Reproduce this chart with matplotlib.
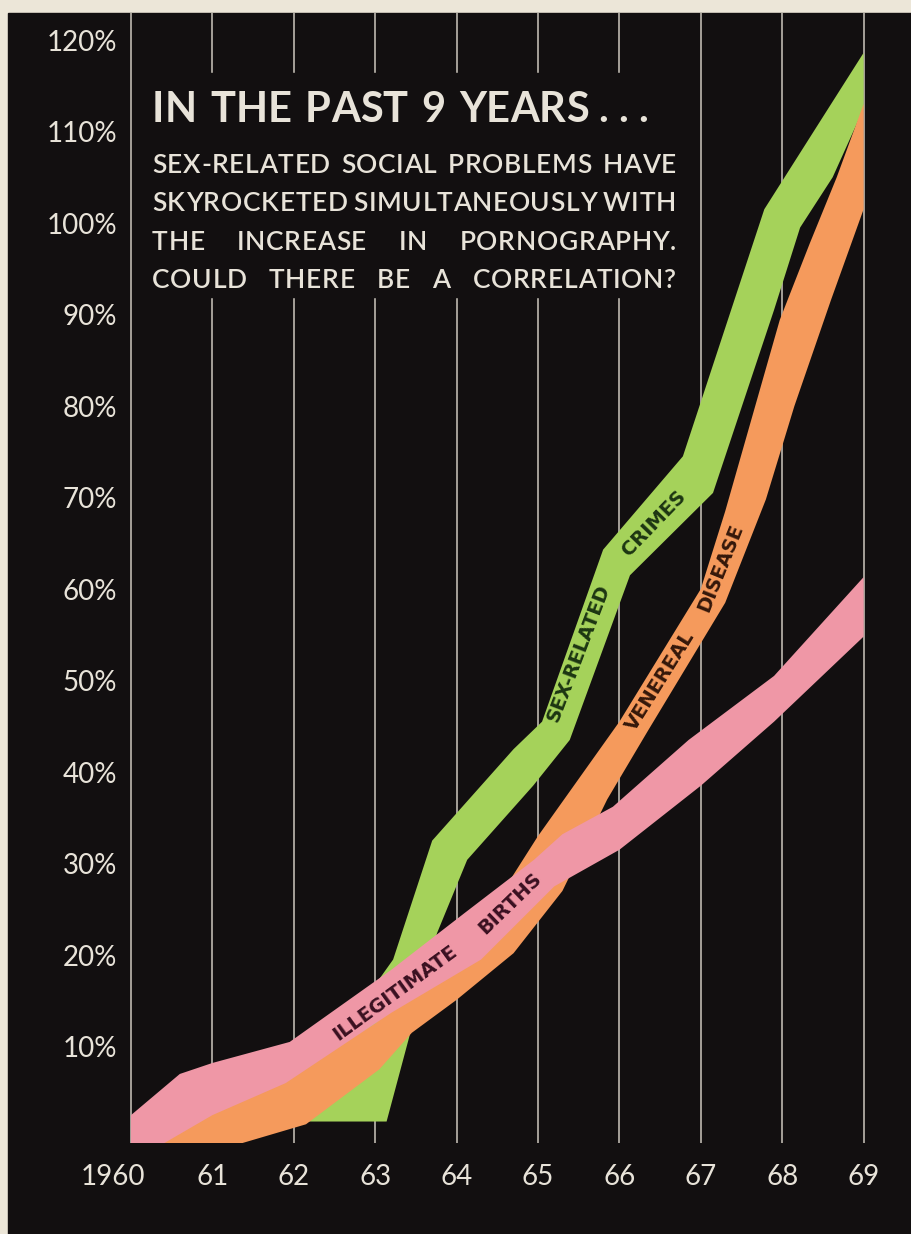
import matplotlib
matplotlib.use("Agg")
import matplotlib.pyplot as plt
from matplotlib.patches import Rectangle
from matplotlib.transforms import ScaledTranslation

W, H = 911, 1234
CREAM = "#ece6d8"
INK = "#120f10"
GRID = "#cdc8be"
LABEL = "#e8e3d9"
GREEN = "#a5d25a"
ORANGE = "#f59a5c"
PINK = "#ef97a6"

years = [1960, 1961, 1962, 1963, 1964, 1965, 1966, 1967, 1968, 1969]
year_labels = ["1960", "61", "62", "63", "64", "65", "66", "67", "68", "69"]
pct_ticks = [10, 20, 30, 40, 50, 60, 70, 80, 90, 100, 110, 120]
pct_labels = ["10%", "20%", "30%", "40%", "50%", "60%", "70%",
              "80%", "90%", "100%", "110%", "120%"]

# ribbon edges: (year, percent)
crimes_top_x = [1961.9, 1963.22, 1963.7, 1964.7, 1965.05, 1965.8, 1966.78, 1967.78, 1969.0]
crimes_top_y = [3.0, 19.5, 32.5, 42.5, 45.5, 64.3, 74.5, 101.5, 118.6]
crimes_bot_x = [1961.9, 1963.14, 1963.76, 1964.13, 1964.94, 1965.39, 1966.13,
                1967.15, 1967.9, 1968.22, 1968.62, 1969.0]
crimes_bot_y = [1.8, 1.8, 22.4, 30.4, 38.5, 43.5, 61.5, 70.5, 90.5, 99.5, 105.0, 112.5]

vd_top_x = [1960.0, 1961.0, 1962.0, 1963.0, 1964.0, 1964.5, 1965.0, 1966.0,
            1967.0, 1967.3, 1967.97, 1968.34, 1968.67, 1969.0]
vd_top_y = [0.0, 3.5, 7.0, 12.5, 20.0, 26.0, 33.0, 45.5, 60.0, 68.5, 89.4, 97.8,
            105.0, 113.0]
vd_bot_x = [1960.0, 1961.35, 1962.15, 1963.05, 1963.45, 1964.0, 1964.7, 1965.3,
            1965.85, 1966.35, 1967.3, 1967.8, 1968.15, 1968.6, 1969.0]
vd_bot_y = [-0.6, -0.6, 1.5, 7.5, 11.5, 15.1, 20.2, 27.0, 37.0, 44.5, 58.5, 69.8,
            80.0, 91.6, 101.5]

births_top_x = [1960.0, 1960.6, 1961.0, 1961.95, 1963.2, 1964.1, 1964.95, 1965.3,
                1965.92, 1966.85, 1967.9, 1969.0]
births_top_y = [2.5, 7.0, 8.2, 10.5, 18.4, 24.6, 30.4, 33.2, 36.2, 43.5, 50.5, 61.3]
births_bot_x = [1960.0, 1960.4, 1961.0, 1961.9, 1963.2, 1964.3, 1965.2, 1966.0,
                1967.0, 1967.9, 1969.0]
births_bot_y = [-0.6, -0.6, 2.5, 6.0, 13.7, 19.5, 27.5, 31.5, 38.5, 45.5, 54.8]

# words printed along the ribbons: (text, year, percent, angle, ribbon)
band_words = [
    ("ILLEGITIMATE", 1963.24, 15.9, 36, PINK),
    ("BIRTHS", 1964.66, 25.6, 44, PINK),
    ("SEX-RELATED", 1965.50, 53.0, 69, GREEN),
    ("CRIMES", 1966.42, 67.2, 46, GREEN),
    ("VENEREAL", 1966.50, 50.0, 58, ORANGE),
    ("DISEASE", 1967.24, 62.3, 68, ORANGE),
]
word_ink = {PINK: "#3a1020", GREEN: "#1c3512", ORANGE: "#34170a"}

title_words = ["IN", "THE", "PAST", "9", "YEARS . . ."]
body_lines = ["SEX-RELATED SOCIAL PROBLEMS HAVE",
              "SKYROCKETED SIMULTANEOUSLY WITH",
              "THE INCREASE IN PORNOGRAPHY.",
              "COULD THERE BE A CORRELATION?"]

plt.rcParams["font.family"] = ["Lato", "DejaVu Sans"]


def fx(px):
    return px / W


def fy(py):
    return 1 - py / H


fig = plt.figure(figsize=(W / 100, H / 100), dpi=100, facecolor=CREAM)
fig.add_artist(Rectangle((fx(8), 0), 1 - fx(8), fy(13), transform=fig.transFigure,
                         color=INK, zorder=-1))

ax = fig.add_axes([fx(124), fy(1143), fx(900) - fx(124), fy(13) - fy(1143)])
ax.set_facecolor("none")
ax.set_xlim(1960 + (124 - 131) / 81.4, 1960 + (900 - 131) / 81.4)
ax.set_ylim((1138 - 1143) / 9.15, (1138 - 13) / 9.15)
for s in ax.spines.values():
    s.set_visible(False)

for yr in years:
    ax.axvline(yr, color=GRID, lw=1.1, zorder=1)

# black box behind the headline cuts the grid lines
ax.add_patch(Rectangle((fx(145), fy(297)), fx(685) - fx(145), fy(73) - fy(297),
                       transform=fig.transFigure, color=INK, zorder=1.5))

ax.fill(crimes_top_x + crimes_bot_x[::-1], crimes_top_y + crimes_bot_y[::-1],
        color=GREEN, lw=0, zorder=2)
ax.fill(vd_top_x + vd_bot_x[::-1], vd_top_y + vd_bot_y[::-1],
        color=ORANGE, lw=0, zorder=3)
ax.fill(births_top_x + births_bot_x[::-1], births_top_y + births_bot_y[::-1],
        color=PINK, lw=0, zorder=4)

for word, xv, yv, ang, band in band_words:
    ax.text(xv, yv, word, rotation=ang, rotation_mode="anchor", ha="center",
            va="center", fontsize=14, fontweight="bold", family="DejaVu Sans",
            color=word_ink[band], zorder=6)

ax.set_xticks(years, year_labels)
ax.set_yticks(pct_ticks, pct_labels)
ax.tick_params(length=0, colors=LABEL, labelsize=20)
ax.tick_params(axis="x", pad=15)
ax.tick_params(axis="y", pad=5)
lbl = ax.xaxis.get_major_ticks()[0].label1
lbl.set_transform(lbl.get_transform() + ScaledTranslation(-0.18, 0, fig.dpi_scale_trans))

renderer = fig.canvas.get_renderer()


def text_width(s, **kw):
    t = fig.text(0, 0, s, **kw)
    w = t.get_window_extent(renderer).width
    t.remove()
    return w


def justify(words, x0, x1, base, track=0.0, **kw):
    # lay out each word letter by letter with extra tracking, then spread words
    placed = []
    for w in words:
        chars = []
        for c in w:
            t = fig.text(0, fy(base), c, va="baseline", ha="left", color=LABEL, **kw)
            chars.append((t, t.get_window_extent(renderer).width))
        width = sum(cw for _, cw in chars) + track * (len(chars) - 1)
        placed.append((chars, width))
    gap = (x1 - x0 - sum(wd for _, wd in placed)) / (len(words) - 1)
    x = x0
    for chars, width in placed:
        cx = x
        for t, cw in chars:
            t.set_x(fx(cx))
            cx += cw + track
        x += width + gap


justify(title_words, 152, 648, 122, fontsize=30, fontweight="bold")

body_kw = dict(fontsize=19, fontweight="semibold")
space_w = text_width("I I", **body_kw) - text_width("II", **body_kw)
track = None
for line in body_lines:
    words = line.split()
    nat = sum(sum(text_width(c, **body_kw) for c in w) for w in words)
    inner = sum(len(w) - 1 for w in words)
    t_line = (676 - 152 - nat - 0.9 * space_w * (len(words) - 1)) / inner
    track = t_line if track is None else min(track, t_line)
for i, line in enumerate(body_lines):
    justify(line.split(), 152, 676, 173 + i * 38.3, track=track, **body_kw)

fig.savefig("out.png", dpi=100, facecolor=CREAM)
